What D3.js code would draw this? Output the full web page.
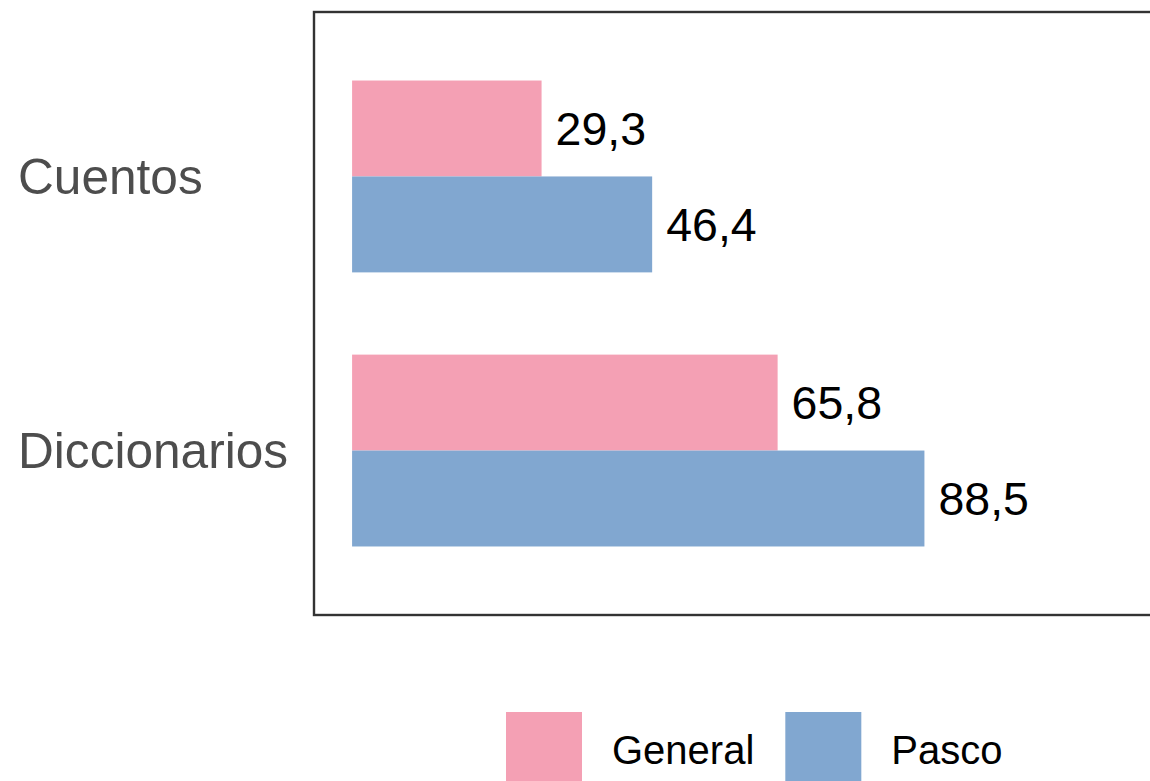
<!DOCTYPE html>
<html>
<head>
<meta charset="utf-8">
<script src="https://cdn.jsdelivr.net/npm/d3@7"></script>
<style>
html,body{margin:0;padding:0;background:#fff;}
svg{display:block;font-family:"Liberation Sans",Arial,sans-serif;}
</style>
</head>
<body>
<svg id="chart" width="1150" height="781"></svg>
<script>
const categories = ["Cuentos", "Diccionarios"];
const seriesNames = ["General", "Pasco"];
const generalValues = [29.3, 65.8];
const pascoValues = [46.4, 88.5];
const colors = ["#F4A0B4", "#81A7D0"];

const data = [];
categories.forEach((c, i) => {
  data.push({cat: c, series: "General", value: generalValues[i]});
  data.push({cat: c, series: "Pasco", value: pascoValues[i]});
});

const svg = d3.select("#chart");
const panel = {left: 314, top: 12, right: 1152, bottom: 615};

const xMax = 117.8;
const xPad = xMax * 0.05;
const x = d3.scaleLinear().domain([-xPad, xMax + xPad]).range([panel.left, panel.right]);

const catPos = d3.scaleLinear().domain([-0.6, categories.length - 1 + 0.6]).range([panel.top, panel.bottom]);
const step = catPos(1) - catPos(0);
const groupW = step * 0.7;
const sub = d3.scaleBand().domain(seriesNames).range([-groupW / 2, groupW / 2]).padding(0);
const color = d3.scaleOrdinal().domain(seriesNames).range(colors);

svg.append("g").selectAll("rect").data(data).join("rect")
  .attr("x", x(0))
  .attr("y", d => catPos(categories.indexOf(d.cat)) + sub(d.series))
  .attr("width", d => x(d.value) - x(0))
  .attr("height", sub.bandwidth())
  .attr("fill", d => color(d.series));

const fmt = v => d3.format(".1f")(v).replace(".", ",");
svg.append("g").selectAll("text").data(data).join("text")
  .attr("x", d => x(d.value) + 14)
  .attr("y", d => catPos(categories.indexOf(d.cat)) + sub(d.series) + sub.bandwidth() / 2)
  .attr("dy", "0.355em")
  .attr("font-size", 46.5)
  .attr("fill", "#000")
  .text(d => fmt(d.value));

svg.append("rect")
  .attr("x", panel.left).attr("y", panel.top)
  .attr("width", panel.right - panel.left).attr("height", panel.bottom - panel.top)
  .attr("fill", "none").attr("stroke", "#333333").attr("stroke-width", 2.4);

svg.append("g").selectAll("text").data(categories).join("text")
  .attr("x", 18)
  .attr("y", (d, i) => catPos(i))
  .attr("dy", "0.355em")
  .attr("font-size", 49.6)
  .attr("fill", "#4d4d4d")
  .text(d => d);

const leg = svg.append("g");
let lx = 506;
const ly = 712, ks = 76;
seriesNames.forEach((s, i) => {
  leg.append("rect").attr("x", lx).attr("y", ly).attr("width", ks).attr("height", ks).attr("fill", color(s));
  const t = leg.append("text").attr("x", lx + ks + 30).attr("y", ly + ks / 2)
    .attr("dy", "0.355em").attr("font-size", 40).attr("fill", "#000").text(s);
  lx = lx + ks + 30 + t.node().getComputedTextLength() + 31;
});
</script>
</body>
</html>
